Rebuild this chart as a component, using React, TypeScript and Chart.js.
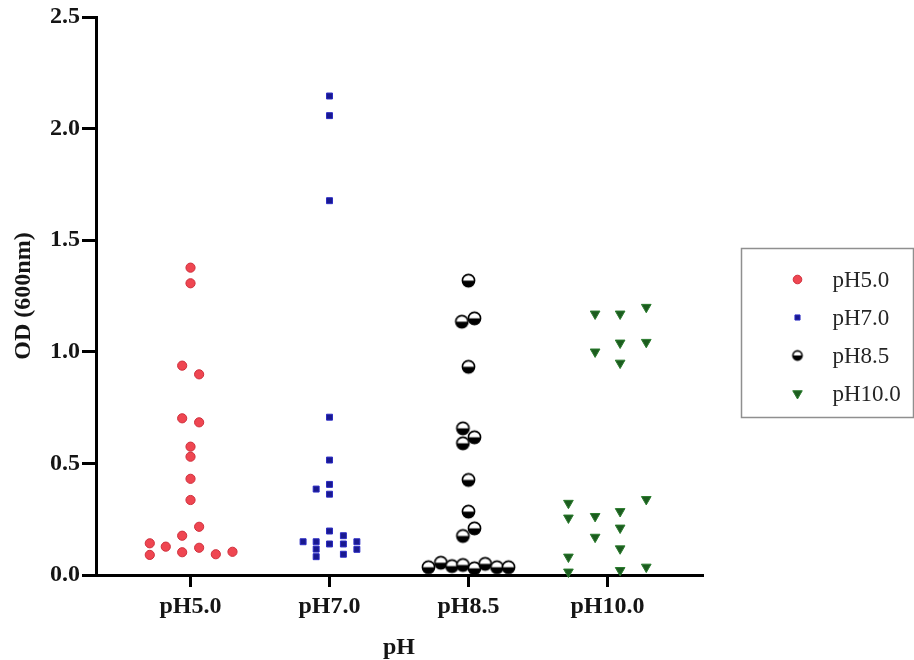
import React, { useEffect, useRef } from 'react';
import { Chart, registerables } from 'chart.js';
import { drawPoint } from 'chart.js/helpers';

Chart.register(...registerables);

// ---- data ----
const categories = ['pH5.0', 'pH7.0', 'pH8.5', 'pH10.0'];
const seriesLabels = ['pH5.0', 'pH7.0', 'pH8.5', 'pH10.0'];
const yTickValues = [0, 0.5, 1.0, 1.5, 2.0, 2.5];

const ph50Values = [1.377, 1.307, 0.938, 0.899, 0.702, 0.684, 0.575, 0.53, 0.431, 0.336, 0.216, 0.176, 0.142, 0.09, 0.127, 0.102, 0.122, 0.093, 0.104];
const ph50Jitter = [0, 0, -0.06, 0.062, -0.06, 0.062, 0, 0, 0, 0, 0.062, -0.06, -0.293, -0.293, -0.178, -0.06, 0.062, 0.182, 0.302];

const ph70Values = [2.146, 2.058, 1.677, 0.707, 0.515, 0.385, 0.406, 0.362, 0.197, 0.149, 0.149, 0.116, 0.082, 0.139, 0.176, 0.139, 0.093, 0.149, 0.115];
const ph70Jitter = [0, 0, 0, 0, 0, -0.096, 0, 0, 0, -0.19, -0.096, -0.096, -0.096, 0, 0.1, 0.1, 0.1, 0.197, 0.197];

const ph85Values = [1.319, 1.135, 1.15, 0.933, 0.657, 0.617, 0.59, 0.426, 0.284, 0.209, 0.175, 0.035, 0.055, 0.04, 0.045, 0.03, 0.05, 0.035, 0.035];
const ph85Jitter = [0, -0.048, 0.043, 0, -0.04, 0.043, -0.04, 0, 0, 0.043, -0.04, -0.288, -0.199, -0.119, -0.04, 0.043, 0.12, 0.205, 0.288];

const ph100Values = [1.17, 1.17, 1.2, 1.0, 1.04, 0.95, 1.043, 0.322, 0.256, 0.263, 0.17, 0.285, 0.211, 0.118, 0.339, 0.081, 0.014, 0.021, 0.036];
const ph100Jitter = [-0.089, 0.091, 0.279, -0.089, 0.091, 0.091, 0.279, -0.281, -0.281, -0.089, -0.089, 0.091, 0.091, 0.091, 0.279, -0.281, -0.281, 0.091, 0.279];

const FONT_FAMILY = '"Liberation Serif", "Times New Roman", Times, serif';

function makeHalfCircle(r: number): HTMLCanvasElement {
  const size = Math.ceil(2 * r + 4);
  const c = document.createElement('canvas');
  c.width = size;
  c.height = size;
  const g = c.getContext('2d') as CanvasRenderingContext2D;
  const cx = size / 2;
  const cy = size / 2;
  g.beginPath();
  g.arc(cx, cy, r, 0, Math.PI * 2);
  g.fillStyle = '#ffffff';
  g.fill();
  g.beginPath();
  g.arc(cx, cy, r, 0, Math.PI);
  g.closePath();
  g.fillStyle = '#000000';
  g.fill();
  g.beginPath();
  g.arc(cx, cy, r, 0, Math.PI * 2);
  g.lineWidth = 1.6;
  g.strokeStyle = '#000000';
  g.stroke();
  return c;
}

function toPoints(values: number[], jitter: number[], catIndex: number) {
  return values.map((v, i) => ({ x: catIndex + 1 + jitter[i], y: v }));
}

export default function App() {
  const canvasRef = useRef<HTMLCanvasElement | null>(null);

  useEffect(() => {
    const canvas = canvasRef.current;
    if (!canvas) return;
    const halfBig = makeHalfCircle(6.1);
    const halfSmall = makeHalfCircle(4.6);
    const legendStyles: any[] = [
      { pointStyle: 'circle', radius: 4.3, rotation: 0 },
      { pointStyle: 'rect', radius: 3.6, rotation: 0 },
      { pointStyle: halfSmall, radius: 4.6, rotation: 0 },
      { pointStyle: 'triangle', radius: 5.5, rotation: 180 },
    ];

    const legendPlugin = {
      id: 'boxLegend',
      afterDraw(chart: any) {
        const { ctx, chartArea } = chart;
        const left = chartArea.right + 39.5;
        const top = 248.5;
        const width = 172;
        const height = 169;
        ctx.save();
        ctx.strokeStyle = '#8f8f8f';
        ctx.lineWidth = 1.5;
        ctx.strokeRect(left, top, width, height);
        chart.data.datasets.forEach((ds: any, i: number) => {
          const y = top + 31 + i * 38;
          const st = legendStyles[i];
          ctx.fillStyle = ds.backgroundColor;
          ctx.strokeStyle = ds.borderColor;
          ctx.lineWidth = ds.borderWidth;
          drawPoint(ctx, { pointStyle: st.pointStyle, radius: st.radius, rotation: st.rotation, borderWidth: ds.borderWidth } as any, left + 56, y);
          ctx.fillStyle = '#262626';
          ctx.font = `23px ${FONT_FAMILY}`;
          ctx.textBaseline = 'middle';
          ctx.textAlign = 'left';
          ctx.fillText(ds.label, left + 91, y + 1);
        });
        ctx.restore();
      },
    };

    const chart = new Chart(canvas, {
      type: 'scatter',
      data: {
        datasets: [
          {
            label: seriesLabels[0],
            data: toPoints(ph50Values, ph50Jitter, 0),
            pointStyle: 'circle',
            pointRadius: 4.6,
            backgroundColor: '#ef4651',
            borderColor: '#cf2f3c',
            borderWidth: 1,
            clip: false,
          } as any,
          {
            label: seriesLabels[1],
            data: toPoints(ph70Values, ph70Jitter, 1),
            pointStyle: 'rect',
            pointRadius: 4.2,
            backgroundColor: '#19198f',
            borderColor: '#2a2ac4',
            borderWidth: 1,
            clip: false,
          } as any,
          {
            label: seriesLabels[2],
            data: toPoints(ph85Values, ph85Jitter, 2),
            pointStyle: halfBig,
            pointRadius: 6.1,
            backgroundColor: '#000000',
            borderColor: '#000000',
            borderWidth: 1,
            clip: false,
          } as any,
          {
            label: seriesLabels[3],
            data: toPoints(ph100Values, ph100Jitter, 3),
            pointStyle: 'triangle',
            pointRotation: 180,
            rotation: 180,
            pointRadius: 5.6,
            backgroundColor: '#1c5c1f',
            borderColor: '#2b7d2e',
            borderWidth: 1,
            clip: false,
          } as any,
        ],
      },
      options: {
        animation: false,
        responsive: false,
        events: [],
        layout: { padding: { left: 0, top: 17, right: 212, bottom: 0 } },
        plugins: {
          legend: { display: false },
          tooltip: { enabled: false },
        },
        scales: {
          x: {
            type: 'linear',
            min: 0.32,
            max: 4.68,
            afterBuildTicks: (s: any) => {
              s.ticks = categories.map((_, i) => ({ value: i + 1 }));
            },
            afterFit: (s: any) => {
              s.height = 85;
            },
            ticks: {
              autoSkip: false,
              maxRotation: 0,
              padding: 5,
              color: '#151515',
              font: { family: FONT_FAMILY, size: 24, weight: 'bold' },
              callback: (v: any) => categories[Math.round(Number(v)) - 1] ?? '',
            },
            grid: {
              display: true,
              drawOnChartArea: false,
              drawTicks: true,
              tickLength: 12,
              lineWidth: 3,
              color: '#000000',
            },
            border: { display: true, width: 3, color: '#000000' },
            title: {
              display: true,
              text: 'pH',
              color: '#151515',
              font: { family: FONT_FAMILY, size: 24, weight: 'bold', lineHeight: 1.0 },
              padding: { top: 0, bottom: 0 },
            },
          },
          y: {
            type: 'linear',
            min: 0,
            max: 2.5,
            afterBuildTicks: (s: any) => {
              s.ticks = yTickValues.map((v) => ({ value: v }));
            },
            afterFit: (s: any) => {
              s.width = 96;
            },
            ticks: {
              padding: 2,
              color: '#151515',
              font: { family: FONT_FAMILY, size: 24, weight: 'bold' },
              callback: (v: any) => Number(v).toFixed(1),
            },
            grid: {
              display: true,
              drawOnChartArea: false,
              drawTicks: true,
              tickLength: 14,
              lineWidth: 3,
              color: '#000000',
            },
            border: { display: true, width: 3, color: '#000000' },
            title: {
              display: true,
              text: 'OD (600nm)',
              color: '#151515',
              font: { family: FONT_FAMILY, size: 24, weight: 'bold', lineHeight: 1.0 },
              padding: { top: 12, bottom: 0 },
            },
          },
        },
      } as any,
      plugins: [legendPlugin],
    });

    return () => {
      chart.destroy();
    };
  }, []);

  return (
    <div style={{ position: 'fixed', left: 0, top: 0, width: 914, height: 660, background: '#ffffff' }}>
      <canvas ref={canvasRef} width={914} height={660} style={{ width: 914, height: 660, display: 'block' }} />
    </div>
  );
}
